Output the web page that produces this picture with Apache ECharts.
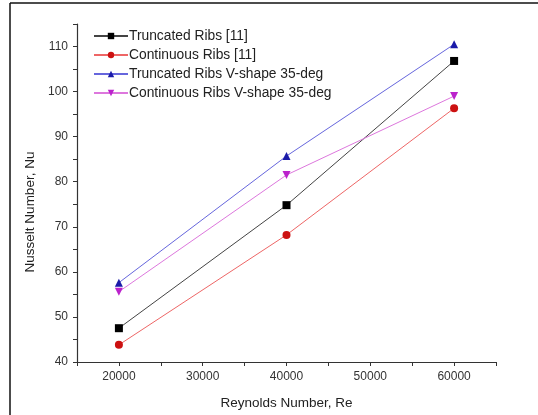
<!DOCTYPE html>
<html>
<head>
<meta charset="utf-8">
<script src="https://cdn.jsdelivr.net/npm/echarts@6/dist/echarts.min.js"></script>
<style>
  html, body { margin: 0; padding: 0; background: #fff; }
  #chart { width: 538px; height: 415px; }
</style>
</head>
<body>
<div id="chart"></div>
<script>
// Reynolds numbers (x) and Nusselt numbers (y)
const reynolds = [20000, 40000, 60000];
const truncatedRibs = [47.5, 74.8, 106.8];
const continuousRibs = [43.8, 68.2, 96.3];
const truncatedV35 = [57.6, 85.7, 110.5];
const continuousV35 = [55.6, 81.5, 99.0];

const seriesNames = [
    'Truncated Ribs [11]',
    'Continuous Ribs [11]',
    'Truncated Ribs V-shape 35-deg',
    'Continuous Ribs V-shape 35-deg'
];

const FONT = 'Liberation Sans, Arial, sans-serif';
const downTriangle = 'path://M0,0 L10,0 L5,9 Z';

function pairs(ys) {
    return reynolds.map((x, i) => [x, ys[i]]);
}

function makeSeries(name, ys, symbol, lineColor, markColor) {
    return {
        name: name,
        type: 'line',
        data: pairs(ys),
        symbol: symbol,
        symbolSize: 8,
        showAllSymbol: true,
        lineStyle: {color: lineColor, width: 1},
        itemStyle: {color: markColor},
        emphasis: {disabled: true},
        animation: false
    };
}

const chart = echarts.init(document.getElementById('chart'), null, {renderer: 'canvas'});

// frame of the original figure: only its top and left edges are in view
const frameStyle = {stroke: '#111', lineWidth: 1.5};

chart.setOption({
    backgroundColor: '#fff',
    animation: false,
    graphic: [
        {type: 'line', shape: {x1: 10, y1: 3, x2: 538, y2: 3}, style: frameStyle, silent: true},
        {type: 'line', shape: {x1: 10, y1: 3, x2: 10, y2: 415}, style: frameStyle, silent: true}
    ],
    grid: {left: 77, right: 42, top: 24, bottom: 51},
    legend: {
        orient: 'vertical',
        left: 88,
        top: 24,
        itemWidth: 34,
        itemHeight: 8,
        itemGap: 5,
        textStyle: {fontFamily: FONT, fontSize: 13.8, color: '#222', padding: [0, 0, 0, -4]},
        data: seriesNames
    },
    xAxis: {
        type: 'value',
        min: 15000,
        max: 65000,
        interval: 5000,
        name: 'Reynolds Number, Re',
        nameLocation: 'middle',
        nameGap: 34,
        nameTextStyle: {fontFamily: FONT, fontSize: 13.5, color: '#222'},
        axisLine: {show: true, onZero: false, lineStyle: {color: '#333', width: 1.2}},
        axisTick: {show: true, inside: false, length: 4, lineStyle: {color: '#333'}},
        axisLabel: {
            fontFamily: FONT, fontSize: 12, color: '#333', margin: 9,
            showMinLabel: true, showMaxLabel: true,
            formatter: v => (v % 10000 === 0 && v >= 20000 && v <= 60000) ? String(v) : ''
        },
        splitLine: {show: false}
    },
    yAxis: {
        type: 'value',
        min: 40,
        max: 115,
        interval: 5,
        name: 'Nusselt Number, Nu',
        nameLocation: 'middle',
        nameGap: 40,
        nameRotate: 90,
        nameTextStyle: {fontFamily: FONT, fontSize: 13.5, color: '#222', padding: [0, 38, 0, 0]},
        axisLine: {show: true, onZero: false, lineStyle: {color: '#333', width: 1.2}},
        axisTick: {show: true, inside: false, length: 4, lineStyle: {color: '#333'}},
        axisLabel: {
            fontFamily: FONT, fontSize: 12, color: '#333', margin: 9,
            formatter: v => (v % 10 === 0) ? String(v) : ''
        },
        splitLine: {show: false}
    },
    series: [
        makeSeries(seriesNames[0], truncatedRibs, 'rect', '#444', '#000'),
        makeSeries(seriesNames[1], continuousRibs, 'circle', '#ee6666', '#cc1111'),
        makeSeries(seriesNames[2], truncatedV35, 'triangle', '#6666dd', '#1a1aa8'),
        makeSeries(seriesNames[3], continuousV35, downTriangle, '#dd77dd', '#bb22cc')
    ]
});
</script>
</body>
</html>
